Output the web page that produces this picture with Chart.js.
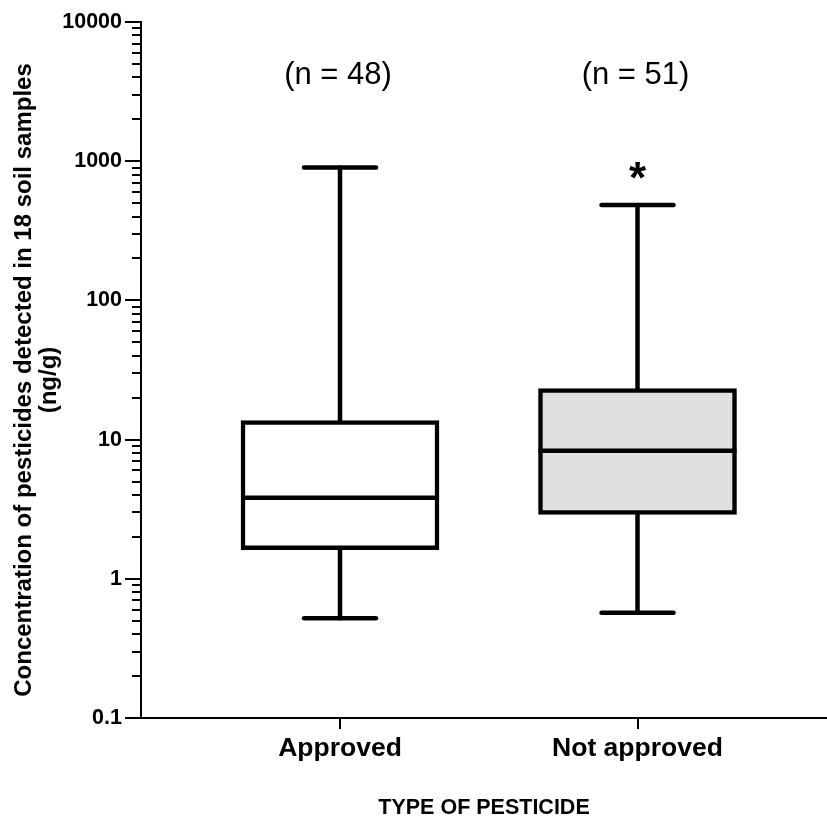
<!DOCTYPE html>
<html>
<head>
<meta charset="utf-8">
<script src="https://cdn.jsdelivr.net/npm/chart.js@4.4.1/dist/chart.umd.min.js"></script>
<style>
  html, body { margin: 0; padding: 0; background: #fff; }
  #wrap { width: 827px; height: 821px; position: relative; }
</style>
</head>
<body>
<div id="wrap"><canvas id="boxChart"></canvas></div>
<script>
// box plot values (ng/g)
const categories = ['Approved', 'Not approved'];
const sampleCounts = [48, 51];
const whiskerMin = [0.52, 0.57];
const quartile1 = [1.62, 2.9];
const medians = [3.82, 8.3];
const quartile3 = [13.7, 23.3];
const whiskerMax = [900, 484];
const significant = [false, true];
const yTicks = [0.1, 1, 10, 100, 1000, 10000];
const boxFills = ['#ffffff', '#dfdfdf'];
const yTitle = ['Concentration of pesticides detected in 18 soil samples', '(ng/g)'];

const FONT = '"Liberation Sans", Arial, sans-serif';

// whiskers, medians, minor ticks and the text above the boxes
const boxPlotParts = {
    id: 'boxPlotParts',
    beforeDatasetsDraw(chart) {
        const { ctx, scales: { x, y } } = chart;
        ctx.save();
        ctx.strokeStyle = '#000';
        ctx.lineWidth = 4.5;
        ctx.lineCap = 'round';
        categories.forEach((c, i) => {
            const cx = x.getPixelForValue(i);
            ctx.beginPath();
            ctx.moveTo(cx, y.getPixelForValue(whiskerMax[i]));
            ctx.lineTo(cx, y.getPixelForValue(whiskerMin[i]));
            ctx.stroke();
            [whiskerMax[i], whiskerMin[i]].forEach(v => {
                const py = y.getPixelForValue(v);
                ctx.beginPath();
                ctx.moveTo(cx - 36, py);
                ctx.lineTo(cx + 36, py);
                ctx.stroke();
            });
        });
        ctx.restore();
    },
    afterDatasetsDraw(chart) {
        const { ctx, chartArea, scales: { x, y } } = chart;
        const bars = chart.getDatasetMeta(0).data;
        ctx.save();
        ctx.strokeStyle = '#000';
        ctx.fillStyle = '#000';
        ctx.lineWidth = 4.5;
        ctx.lineCap = 'butt';
        bars.forEach((bar, i) => {
            const py = y.getPixelForValue(medians[i]);
            ctx.beginPath();
            ctx.moveTo(bar.x - bar.width / 2, py);
            ctx.lineTo(bar.x + bar.width / 2, py);
            ctx.stroke();
        });

        // n labels
        ctx.font = '31px ' + FONT;
        ctx.textAlign = 'center';
        ctx.textBaseline = 'middle';
        categories.forEach((c, i) => {
            ctx.fillText('(n = ' + sampleCounts[i] + ')', x.getPixelForValue(i) - 2, chartArea.top + 53);
        });

        // asterisk over significant group
        ctx.font = 'bold 44px ' + FONT;
        ctx.textBaseline = 'alphabetic';
        categories.forEach((c, i) => {
            if (!significant[i]) return;
            const py = y.getPixelForValue(whiskerMax[i]) - 33;
            ctx.fillText('*', x.getPixelForValue(i), py + 21);
        });

        // minor log ticks
        ctx.lineWidth = 2;
        for (let k = -1; k < 4; k++) {
            for (let m = 2; m < 10; m++) {
                const py = Math.round(y.getPixelForValue(m * Math.pow(10, k)));
                ctx.beginPath();
                ctx.moveTo(chartArea.left - 9, py);
                ctx.lineTo(chartArea.left, py);
                ctx.stroke();
            }
        }

        // y axis title, two rotated lines
        ctx.font = 'bold 24px ' + FONT;
        ctx.textAlign = 'center';
        ctx.textBaseline = 'middle';
        ctx.translate(0, (chartArea.top + chartArea.bottom) / 2 + 10);
        ctx.rotate(-Math.PI / 2);
        yTitle.forEach((line, j) => ctx.fillText(line, 0, 24 + j * 25));
        ctx.restore();
    }
};

const ctx = document.getElementById('boxChart').getContext('2d');
const chart = new Chart(ctx, {
    type: 'bar',
    data: {
        datasets: [{
            data: categories.map((c, i) => ({ x: i, y: [quartile1[i], quartile3[i]] })),
            backgroundColor: boxFills,
            borderColor: '#000',
            borderWidth: 4.5,
            borderSkipped: false,
            barThickness: 198,
        }]
    },
    options: {
        responsive: true,
        maintainAspectRatio: false,
        animation: false,
        layout: { padding: { top: 22, right: 0, bottom: 0, left: 0 } },
        plugins: {
            legend: { display: false },
            tooltip: { enabled: false },
        },
        scales: {
            x: {
                type: 'linear',
                min: -0.669,
                max: 1.637,
                offset: false,
                afterBuildTicks: s => { s.ticks = categories.map((c, i) => ({ value: i })); },
                afterFit: s => { s.height = 103; },
                grid: { offset: false, drawOnChartArea: false, drawTicks: true, tickLength: 11, color: '#000', lineWidth: 2 },
                border: { display: true, color: '#000', width: 2 },
                ticks: {
                    callback: v => categories[v],
                    font: { family: FONT, size: 26.5, weight: 'bold' },
                    color: '#000',
                    padding: 4,
                    maxRotation: 0,
                    autoSkip: false,
                },
                title: {
                    display: true,
                    text: 'TYPE OF PESTICIDE',
                    color: '#000',
                    font: { family: FONT, size: 21.5, weight: 'bold', lineHeight: 1 },
                    padding: { top: 0, bottom: 2 },
                },
            },
            y: {
                type: 'logarithmic',
                min: 0.1,
                max: 10000,
                afterBuildTicks: s => { s.ticks = yTicks.map(v => ({ value: v })); },
                afterFit: s => { s.width = 141; },
                grid: { drawOnChartArea: false, drawTicks: true, tickLength: 16, color: '#000', lineWidth: 2 },
                border: { display: true, color: '#000', width: 2 },
                ticks: {
                    callback: v => String(v),
                    font: { family: FONT, size: 21.5, weight: 'bold' },
                    color: '#000',
                    padding: 3,
                },
            },
        },
    },
    plugins: [boxPlotParts],
});
</script>
</body>
</html>
